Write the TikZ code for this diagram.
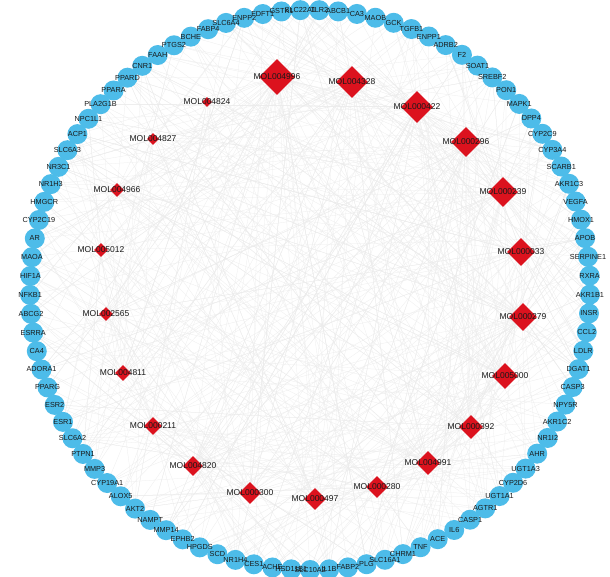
\documentclass[tikz,border=0pt]{standalone}
\usepackage{fontspec}
\setmainfont{Liberation Sans}
\usetikzlibrary{shapes.geometric,backgrounds}
\definecolor{genefill}{RGB}{77,188,233}
\definecolor{molfill}{RGB}{220,18,30}
\definecolor{linkcol}{RGB}{236,236,236}
\tikzset{
  gene/.style={circle,fill=genefill,minimum size=20pt,inner sep=0pt},
  genelab/.style={font=\fontsize{7.3}{8}\selectfont,inner sep=0pt,text=black!90},
  mol/.style={diamond,fill=molfill,inner sep=0pt,minimum size=#1},
  mollab/.style={font=\fontsize{8.5}{10}\selectfont,inner sep=0pt,text=black!90},
  linkline/.style={draw=linkcol,line width=0.25pt}
}
\def\genelist{BCHE,FABP4,SLC6A4,ENPP2,FDFT1,GSTK1,SLC22A1,TLR2,ABCB1,CA3,MAOB,GCK,TGFB1,ENPP1,ADRB2,F2,SOAT1,SREBF2,PON1,MAPK1,DPP4,CYP2C9,CYP3A4,SCARB1,AKR1C3,VEGFA,HMOX1,APOB,SERPINE1,RXRA,AKR1B1,INSR,CCL2,LDLR,DGAT1,CASP3,NPY5R,AKR1C2,NR1I2,AHR,UGT1A3,CYP2D6,UGT1A1,AGTR1,CASP1,IL6,ACE,TNF,CHRM1,SLC16A1,PLG,FABP2,IL1B,SLC10A2,HSD11B1,ACHE,CES1,NR1H4,SCD,HPGDS,EPHB2,MMP14,NAMPT,AKT2,ALOX5,CYP19A1,MMP3,PTPN1,SLC6A2,ESR1,ESR2,PPARG,ADORA1,CA4,ESRRA,ABCG2,NFKB1,HIF1A,MAOA,AR,CYP2C19,HMGCR,NR1H3,NR3C1,SLC6A3,ACP1,NPC1L1,PLA2G1B,PPARA,PPARD,CNR1,FAAH,PTGS2}
\def\mollist{277/77/36/MOL004996,352/82/32/MOL004328,417/107/32/MOL000422,466/142/30/MOL000296,503/192/30/MOL000239,521/252/28/MOL000033,523/317/28/MOL000279,505/376/26/MOL005000,471/427/24/MOL000392,428/463/24/MOL004991,377/487/22/MOL000280,315/499/22/MOL000497,250/493/22/MOL000300,193/466/20/MOL004820,153/426/18/MOL000211,123/373/16/MOL004811,106/314/14/MOL002565,101/250/14/MOL005012,117/190/14/MOL004966,153/139/12/MOL004827,207/102/10/MOL004824}
\def\deglist{46,42,42,40,40,37,37,34,32,32,29,29,29,26,24,21,18,18,18,16,13}
\begin{document}
\begin{tikzpicture}[x=1pt,y=-1pt]
\useasboundingbox (0,0) rectangle (610,577);
% outer ring of targets
\foreach \lab [count=\i] in \genelist {
  \pgfmathsetmacro\a{115.2-(\i-1)*3.870968}
  \node[gene] (g\i) at ({310+280*cos(\a)},{290-280*sin(\a)}) {};
}
\foreach \lab [count=\i] in \genelist {
  \node[genelab] at (g\i) {\lab};
}
% compounds
\foreach \x/\y/\s/\lab [count=\m] in \mollist {
  \node[mol=\s pt] (m\m) at (\x,\y) {};
  \node[mollab] at (m\m) {\lab};
}
% links
\pgfmathsetseed{20231}
\begin{pgfonlayer}{background}
\fill[white] (0,0) rectangle (610,577);
\foreach \d [count=\m] in \deglist {
  \foreach \k in {1,...,\d} {
    \pgfmathrandominteger{\g}{1}{93}
    \draw[linkline] (m\m.center) -- (g\g.center);
  }
}
\end{pgfonlayer}
\end{tikzpicture}
\end{document}
